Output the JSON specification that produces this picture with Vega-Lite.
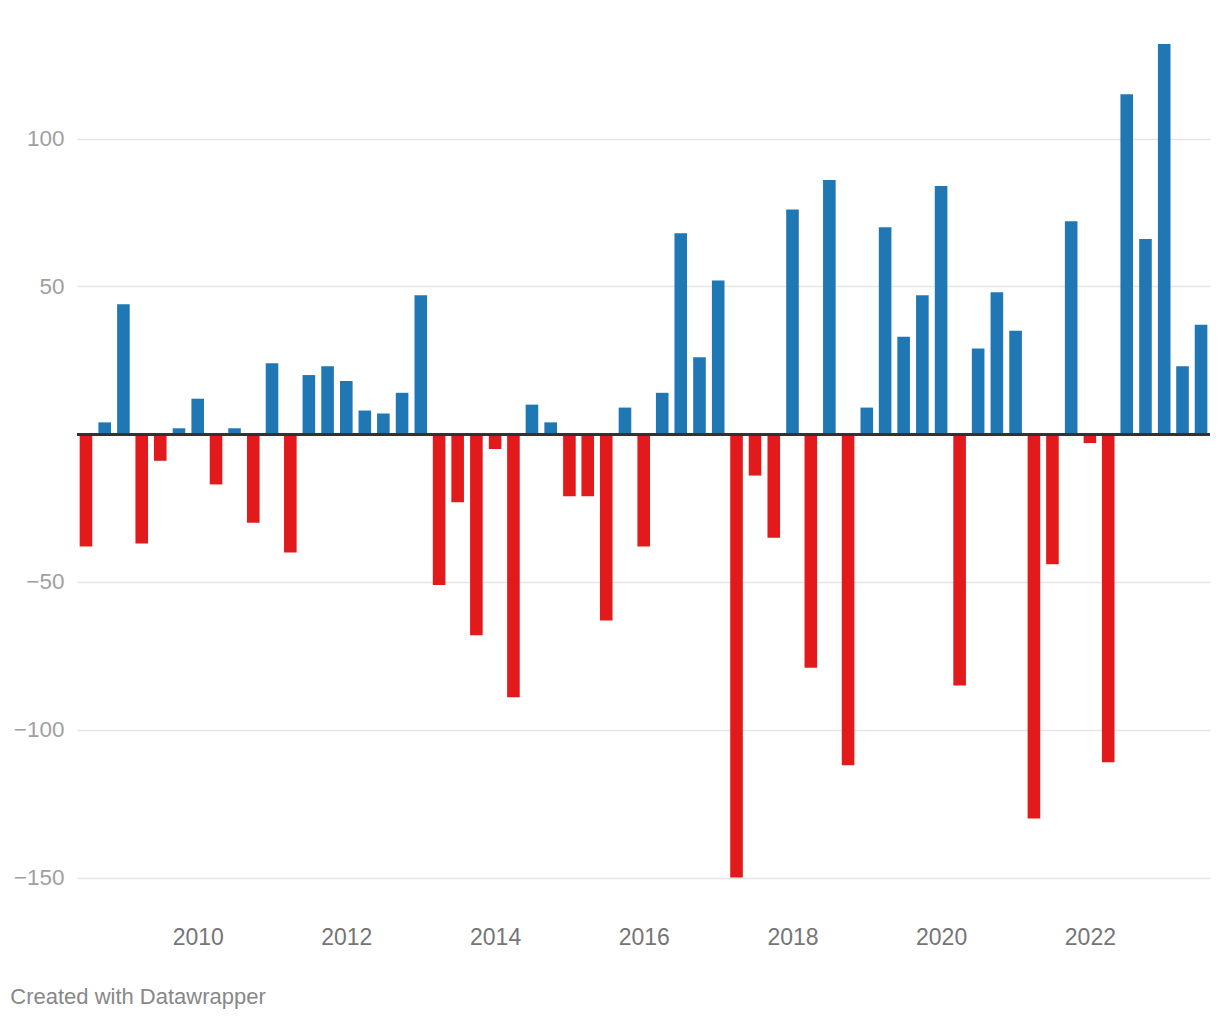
{
  "$schema": "https://vega.github.io/schema/vega-lite/v6.json",
  "autosize": {"type": "none"},
  "padding": {"left": 77, "top": 44, "right": 10, "bottom": 142},
  "width": 1133,
  "height": 833.6,
  "background": "#ffffff",
  "config": {
    "view": {"stroke": null},
    "font": "Liberation Sans"
  },
  "title": {
    "text": "Created with Datawrapper",
    "orient": "bottom",
    "anchor": "start",
    "frame": "bounds",
    "offset": 37,
    "dx": -3,
    "fontSize": 22,
    "fontWeight": "normal",
    "color": "#888888",
    "font": "Liberation Sans"
  },
  "data": {
    "values": [
      {"date": "2008-07-01", "value": -38},
      {"date": "2008-10-01", "value": 4},
      {"date": "2009-01-01", "value": 44},
      {"date": "2009-04-01", "value": -37},
      {"date": "2009-07-01", "value": -9},
      {"date": "2009-10-01", "value": 2},
      {"date": "2010-01-01", "value": 12},
      {"date": "2010-04-01", "value": -17},
      {"date": "2010-07-01", "value": 2},
      {"date": "2010-10-01", "value": -30},
      {"date": "2011-01-01", "value": 24},
      {"date": "2011-04-01", "value": -40},
      {"date": "2011-07-01", "value": 20},
      {"date": "2011-10-01", "value": 23},
      {"date": "2012-01-01", "value": 18},
      {"date": "2012-04-01", "value": 8},
      {"date": "2012-07-01", "value": 7},
      {"date": "2012-10-01", "value": 14},
      {"date": "2013-01-01", "value": 47},
      {"date": "2013-04-01", "value": -51},
      {"date": "2013-07-01", "value": -23},
      {"date": "2013-10-01", "value": -68},
      {"date": "2014-01-01", "value": -5},
      {"date": "2014-04-01", "value": -89},
      {"date": "2014-07-01", "value": 10},
      {"date": "2014-10-01", "value": 4},
      {"date": "2015-01-01", "value": -21},
      {"date": "2015-04-01", "value": -21},
      {"date": "2015-07-01", "value": -63},
      {"date": "2015-10-01", "value": 9},
      {"date": "2016-01-01", "value": -38},
      {"date": "2016-04-01", "value": 14},
      {"date": "2016-07-01", "value": 68},
      {"date": "2016-10-01", "value": 26},
      {"date": "2017-01-01", "value": 52},
      {"date": "2017-04-01", "value": -150},
      {"date": "2017-07-01", "value": -14},
      {"date": "2017-10-01", "value": -35},
      {"date": "2018-01-01", "value": 76},
      {"date": "2018-04-01", "value": -79},
      {"date": "2018-07-01", "value": 86},
      {"date": "2018-10-01", "value": -112},
      {"date": "2019-01-01", "value": 9},
      {"date": "2019-04-01", "value": 70},
      {"date": "2019-07-01", "value": 33},
      {"date": "2019-10-01", "value": 47},
      {"date": "2020-01-01", "value": 84},
      {"date": "2020-04-01", "value": -85},
      {"date": "2020-07-01", "value": 29},
      {"date": "2020-10-01", "value": 48},
      {"date": "2021-01-01", "value": 35},
      {"date": "2021-04-01", "value": -130},
      {"date": "2021-07-01", "value": -44},
      {"date": "2021-10-01", "value": 72},
      {"date": "2022-01-01", "value": -3},
      {"date": "2022-04-01", "value": -111},
      {"date": "2022-07-01", "value": 115},
      {"date": "2022-10-01", "value": 66},
      {"date": "2023-01-01", "value": 132},
      {"date": "2023-04-01", "value": 23},
      {"date": "2023-07-01", "value": 37}
    ]
  },
  "layer": [
    {
      "mark": {"type": "bar", "width": 12.6},
      "encoding": {
        "x": {
          "field": "date",
          "type": "temporal",
          "scale": {
            "type": "utc",
            "padding": 0,
            "domain": [
              {"year": 2008, "month": 5, "date": 18, "utc": true},
              {"year": 2023, "month": 8, "date": 14, "utc": true}
            ]
          },
          "axis": {
            "title": null,
            "format": "%Y",
            "values": [
              {"year": 2010, "month": 1, "date": 1, "utc": true},
              {"year": 2012, "month": 1, "date": 1, "utc": true},
              {"year": 2014, "month": 1, "date": 1, "utc": true},
              {"year": 2016, "month": 1, "date": 1, "utc": true},
              {"year": 2018, "month": 1, "date": 1, "utc": true},
              {"year": 2020, "month": 1, "date": 1, "utc": true},
              {"year": 2022, "month": 1, "date": 1, "utc": true}
            ],
            "grid": false,
            "ticks": false,
            "domain": false,
            "labelFontSize": 23,
            "labelColor": "#757575",
            "labelPadding": 49,
            "labelFont": "Liberation Sans"
          }
        },
        "y": {
          "field": "value",
          "type": "quantitative",
          "scale": {"domain": [-150, 132], "nice": false, "zero": true},
          "axis": {
            "title": null,
            "values": [-150, -100, -50, 50, 100],
            "grid": true,
            "gridColor": "#e5e5e5",
            "gridWidth": 1.5,
            "ticks": false,
            "domain": false,
            "labelFontSize": 22.5,
            "labelColor": "#a0a0a0",
            "labelPadding": 13,
            "labelFont": "Liberation Sans",
            "format": "d"
          }
        },
        "color": {
          "condition": {"test": "datum.value >= 0", "value": "#1f77b4"},
          "value": "#e31a1c"
        }
      }
    },
    {
      "mark": {"type": "rule", "color": "#333333", "strokeWidth": 2.2},
      "encoding": {
        "y": {"datum": 0, "type": "quantitative"}
      }
    }
  ]
}
